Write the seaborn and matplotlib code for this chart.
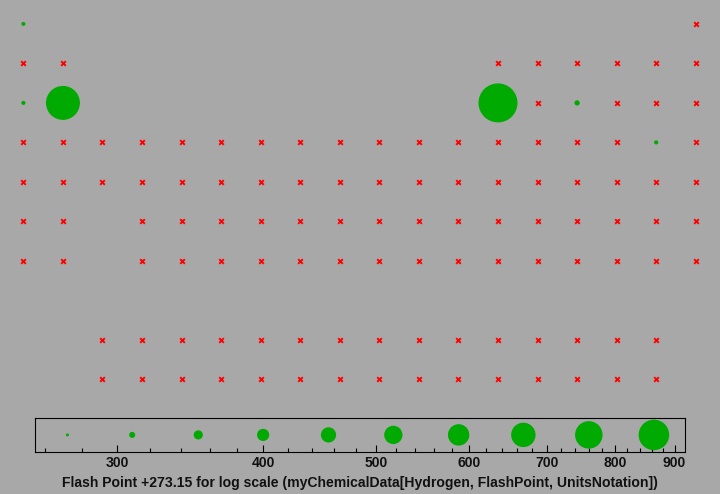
import numpy as np
import pandas as pd
import matplotlib
matplotlib.use("Agg")
import matplotlib.pyplot as plt
import seaborn as sns
from matplotlib.ticker import FixedLocator, FixedFormatter, NullFormatter

sns.set_theme(style="white")
plt.rcParams["font.family"] = ["Liberation Sans", "DejaVu Sans"]

# ---------------- data ----------------
table_rows = [
    "H  .  .  .  .  .  .  .  .  .  .  .  .  .  .  .  .  He",
    "Li Be .  .  .  .  .  .  .  .  .  .  B  C  N  O  F  Ne",
    "Na Mg .  .  .  .  .  .  .  .  .  .  Al Si P  S  Cl Ar",
    "K  Ca Sc Ti V  Cr Mn Fe Co Ni Cu Zn Ga Ge As Se Br Kr",
    "Rb Sr Y  Zr Nb Mo Tc Ru Rh Pd Ag Cd In Sn Sb Te I  Xe",
    "Cs Ba .  Hf Ta W  Re Os Ir Pt Au Hg Tl Pb Bi Po At Rn",
    "Fr Ra .  Rf Db Sg Bh Hs Mt Ds Rg Cn Nh Fl Mc Lv Ts Og",
    ".  .  .  .  .  .  .  .  .  .  .  .  .  .  .  .  .  .",
    ".  .  La Ce Pr Nd Pm Sm Eu Gd Tb Dy Ho Er Tm Yb Lu .",
    ".  .  Ac Th Pa U  Np Pu Am Cm Bk Cf Es Fm Md No Lr .",
]
flash_elements = ["H", "Na", "Mg", "Al", "P", "Br"]
flash_values = [272, 273, 733, 866, 284, 274]          # flash point + 273.15

legend_values = [272, 309, 352, 400, 455, 517, 588, 668, 760, 864]
major_ticks = [300, 400, 500, 600, 700, 800, 900]
major_labels = ["300", "400", "500", "600", "700", "800", "900"]
minor_ticks = [260, 280, 320, 340, 360, 380, 420, 440, 460, 480, 520, 540, 560,
               580, 620, 640, 660, 680, 720, 740, 760, 780, 820, 840, 860, 880]
x_label = "Flash Point +273.15 for log scale (myChemicalData[Hydrogen, FlashPoint, UnitsNotation])"

# ---------------- table ----------------
recs = []
for r, line in enumerate(table_rows, start=1):
    for c, sym in enumerate(line.split(), start=1):
        if sym != ".":
            recs.append((sym, c, r))
df = pd.DataFrame(recs, columns=["symbol", "col", "row"])
df["flash"] = df["symbol"].map(dict(zip(flash_elements, flash_values)))

vmin, vmax = min(flash_values), max(flash_values)

def diam_px(v, dmin, dmax):
    return dmin + (dmax - dmin) * np.log(v / vmin) / np.log(vmax / vmin)

def area_pt(d):
    return (d * 0.72) ** 2

BG = "#A8A8A8"
GREEN = "#00AA00"
FS = 10.1

fig = plt.figure(figsize=(7.2, 4.94), dpi=100, facecolor=BG)

# main periodic-table axes (pixel-aligned)
ax = fig.add_axes([0, 0, 1, 1])
ax.set_facecolor("none")
dx, dy = 39.55, 39.5
x0, y0 = 23.4, 23.9
ax.set_xlim(1 - x0 / dx, 1 + (720 - x0) / dx)
ax.set_ylim(1 + (494 - y0) / dy, 1 - y0 / dy)
ax.axis("off")

red = df[df["flash"].isna()]
green = df[df["flash"].notna()]

sns.scatterplot(data=red, x="col", y="row", marker="x", color="#FF0000",
                s=11, linewidth=1.4, ax=ax, legend=False, zorder=2)
sizes_main = {v: area_pt(diam_px(v, 4, 39)) for v in flash_values}
sns.scatterplot(data=green, x="col", y="row", size="flash", sizes=sizes_main,
                color=GREEN, edgecolor="none", linewidth=0, ax=ax,
                legend=False, zorder=3)

# bubble-size legend axes
lax = fig.add_axes([35.3 / 720, (494 - 451.5) / 494, (685 - 35.3) / 720, 33.2 / 494])
lax.set_facecolor("none")
leg = pd.DataFrame({"value": legend_values, "y": np.zeros(len(legend_values))})
sizes_leg = {v: area_pt(diam_px(v, 3, 30.6)) for v in legend_values}
sns.scatterplot(data=leg, x="value", y="y", size="value", sizes=sizes_leg,
                color=GREEN, edgecolor="none", linewidth=0, ax=lax, legend=False)
lax.set_xscale("log")
lax.set_xlim(255.3, 918.6)
lax.set_ylim(-1, 1)
lax.xaxis.set_major_locator(FixedLocator(major_ticks))
lax.xaxis.set_major_formatter(FixedFormatter(major_labels))
lax.xaxis.set_minor_locator(FixedLocator(minor_ticks))
lax.xaxis.set_minor_formatter(NullFormatter())
lax.set_yticks([])
lax.set_ylabel("")
lax.tick_params(axis="x", which="major", direction="in", length=5.2, width=0.8,
                bottom=True, top=False, colors="black", labelsize=FS, pad=3.2,
                labelcolor="#111111")
lax.tick_params(axis="x", which="minor", direction="in", length=2.9, width=0.8,
                bottom=True, top=False, colors="black")
for lbl in lax.get_xticklabels():
    lbl.set_fontweight("bold")
for sp in lax.spines.values():
    sp.set_visible(True)
    sp.set_color("black")
    sp.set_linewidth(0.8)
lax.set_xlabel(x_label, fontsize=FS, fontweight="bold", color="#111111", labelpad=4.3)

fig.savefig("out.png", dpi=100, facecolor=BG)
